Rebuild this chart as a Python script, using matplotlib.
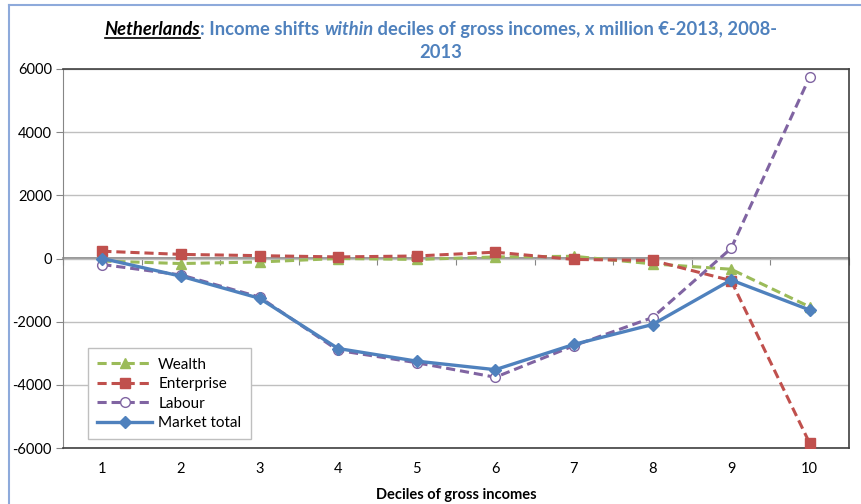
import numpy as np
import matplotlib
matplotlib.use("Agg")
import matplotlib.pyplot as plt
from matplotlib.lines import Line2D

plt.rcParams['font.family'] = ['Lato', 'DejaVu Sans']

# Income shifts within deciles, x million EUR-2013, 2008-2013
deciles = [1, 2, 3, 4, 5, 6, 7, 8, 9, 10]
wealth = [-80, -160, -110, 0, -30, 50, 70, -170, -340, -1530]
enterprise = [230, 130, 90, 50, 80, 200, -30, -60, -700, -5850]
labour = [-190, -520, -1220, -2910, -3300, -3760, -2760, -1870, 320, 5750]
market_total = [0, -560, -1260, -2850, -3250, -3520, -2720, -2090, -680, -1630]

yticks = [-6000, -4000, -2000, 0, 2000, 4000, 6000]

c_wealth = '#9BBB59'
c_enterprise = '#C0504D'
c_labour = '#8064A2'
c_market = '#4F81BD'
c_title = '#4F81BD'

fig = plt.figure(figsize=(8.62, 5.04), dpi=100)
ax = fig.add_axes([63/862, 1 - 448/504, 786/862, 379/504])

ax.plot(deciles, wealth, color=c_wealth, lw=2.2, ls=(0, (3, 1.6)),
        marker='^', ms=7, label='Wealth', zorder=3)
ax.plot(deciles, enterprise, color=c_enterprise, lw=2.2, ls=(0, (3, 1.6)),
        marker='s', ms=7.5, label='Enterprise', zorder=4)
ax.plot(deciles, labour, color=c_labour, lw=2.2, ls=(0, (3, 1.6)),
        marker='o', ms=7, mfc='white', mec=c_labour, mew=1, label='Labour', zorder=5)
ax.plot(deciles, market_total, color=c_market, lw=2.4,
        marker='D', ms=6, label='Market total', zorder=6)

ax.set_xlim(0.5, 10.5)
ax.set_ylim(-6000, 6000)
ax.set_yticks(yticks)
ax.set_yticklabels([str(v) for v in yticks], fontsize=10.5)
ax.set_xticks(deciles)
ax.set_xticklabels([str(d) for d in deciles], fontsize=10.5)
ax.tick_params(axis='x', length=0, pad=10)
ax.tick_params(axis='y', length=5, color='#868686', pad=3)
ax.grid(axis='y', color='#BFBFBF', lw=1)
ax.set_axisbelow(True)

for side in ['top', 'right', 'bottom']:
    ax.spines[side].set_color('#404040')
    ax.spines[side].set_linewidth(1.2)
ax.spines['left'].set_color('#868686')

# category axis crossing at zero, ticks between categories
sec = ax.secondary_xaxis(0.5)
sec.set_xticks(np.arange(0.5, 11, 1))
sec.set_xticklabels([])
sec.tick_params(length=5, color='#868686', direction='in')
for sp in sec.spines.values():
    sp.set_color('#868686')
    sp.set_linewidth(1.2)

ax.set_xlabel('Deciles of gross incomes', fontsize=10.5, fontweight='bold', labelpad=9)

leg = ax.legend(loc='lower left', bbox_to_anchor=(0.022, 0.003), fontsize=11,
                frameon=True, fancybox=False, edgecolor='#BFBFBF', framealpha=1,
                borderpad=0.6, labelspacing=0.36, handlelength=3.6, handletextpad=0.4)
leg.get_frame().set_linewidth(1)

# title built from styled pieces
fs = 13.2
pieces = [
    ('Netherlands', 'black', 'italic'),
    (': Income shifts ', c_title, 'normal'),
    ('within', c_title, 'italic'),
    (' deciles of gross incomes, x million €-2013, 2008-', c_title, 'normal'),
]
fig.canvas.draw()
renderer = fig.canvas.get_renderer()
texts = []
widths = []
for s, col, style in pieces:
    t = fig.text(0, 0, s, color=col, fontstyle=style, fontweight='bold',
                 fontsize=fs, ha='left', va='baseline')
    texts.append(t)
    widths.append(t.get_window_extent(renderer).width)
total = sum(widths)
x0 = 441 - total / 2
ybase = 504 - 35
x = x0
for t, w in zip(texts, widths):
    t.set_position((x / 862, ybase / 504))
    x += w
# underline the country name
fig.add_artist(Line2D([x0 / 862, (x0 + widths[0]) / 862],
                      [(ybase - 3) / 504, (ybase - 3) / 504],
                      color='black', lw=1.2))
fig.text(441 / 862, (504 - 58) / 504, '2013', color=c_title, fontweight='bold',
         fontsize=fs, ha='center', va='baseline')

# outer frame edges
fig.add_artist(Line2D([9 / 862, 9 / 862], [0, 1 - 5 / 504], color='#8EAADB', lw=1.5))
fig.add_artist(Line2D([9 / 862, 1], [1 - 5 / 504, 1 - 5 / 504], color='#8EAADB', lw=1.5))

fig.savefig('out.png', dpi=100)
